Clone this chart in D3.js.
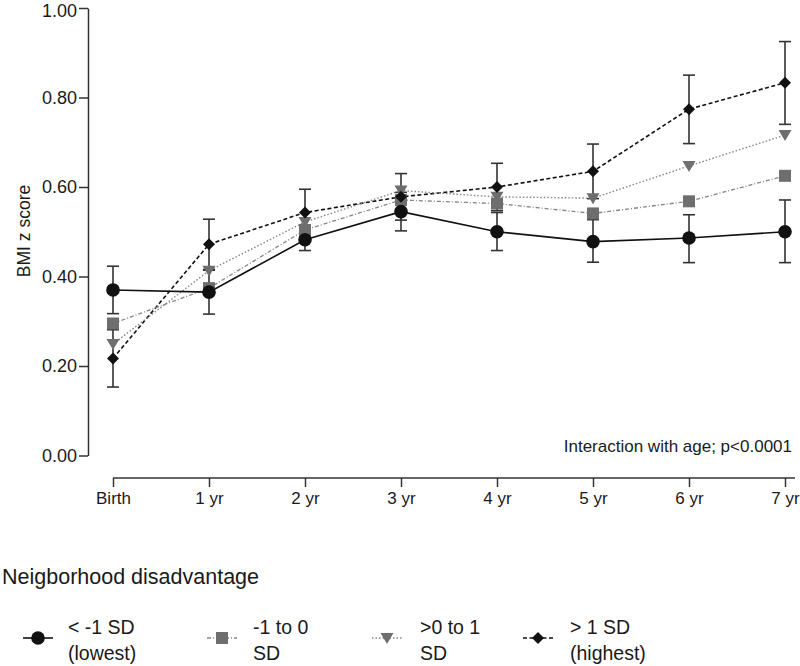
<!DOCTYPE html>
<html>
<head>
<meta charset="utf-8">
<script src="https://cdn.jsdelivr.net/npm/d3@7"></script>
<style>
  html, body { margin: 0; padding: 0; background: #fff; }
  svg { display: block; font-family: "Liberation Sans", Arial, sans-serif; }
</style>
</head>
<body>
<svg id="chart" width="800" height="666"></svg>
<script>
// ---- data ----
const categories = ["Birth", "1 yr", "2 yr", "3 yr", "4 yr", "5 yr", "6 yr", "7 yr"];
const yTicks = [0, 0.2, 0.4, 0.6, 0.8, 1.0];

const seriesNames = ["< -1 SD|(lowest)", "-1 to 0|SD", ">0 to 1|SD", "> 1 SD|(highest)"];
const lowestValues   = [0.370, 0.365, 0.482, 0.545, 0.500, 0.478, 0.486, 0.500];
const lowerMidValues = [0.295, 0.374, 0.504, 0.571, 0.563, 0.541, 0.568, 0.625];
const upperMidValues = [0.249, 0.413, 0.522, 0.592, 0.578, 0.575, 0.647, 0.716];
const highestValues  = [0.217, 0.472, 0.543, 0.578, 0.600, 0.635, 0.774, 0.833];

// error bars (lower, upper) for the lowest and highest groups
const lowestLow   = [0.317, 0.316, 0.458, 0.502, 0.458, 0.432, 0.431, 0.431];
const lowestHigh  = [0.423, 0.414, 0.506, 0.588, 0.543, 0.527, 0.538, 0.571];
const highestLow  = [0.153, 0.416, 0.491, 0.526, 0.547, 0.574, 0.697, 0.740];
const highestHigh = [0.281, 0.528, 0.595, 0.630, 0.653, 0.696, 0.850, 0.925];

const legendTitle = "Neigborhood disadvantage";
const annotation = "Interaction with age; p<0.0001";
const yTitle = "BMI z score";

// ---- layout ----
const svg = d3.select("#chart");
const axisX = 88, axisYBottom = 478;
const x = d3.scalePoint().domain(categories).range([113, 785]);
const y = d3.scaleLinear().domain([0, 1]).range([455.5, 8]);

const black = "#111", gray = "#6e6e6e", lineGray = "#858585";
const txt = "#1a1a1a";

const styles = [
  { symbol: "circle",   fill: black, stroke: black, width: 1.6, dash: null },
  { symbol: "square",   fill: gray,  stroke: lineGray, width: 1.3, dash: "4,2,1,2" },
  { symbol: "triangle", fill: gray,  stroke: lineGray, width: 1.4, dash: "1.5,2" },
  { symbol: "diamond",  fill: black, stroke: black, width: 1.6, dash: "4,2.5" }
];
const seriesValues = [lowestValues, lowerMidValues, upperMidValues, highestValues];

// Y axis
const yAxis = d3.axisLeft(y).tickValues(yTicks).tickFormat(d3.format(".2f"))
  .tickSizeInner(9).tickSizeOuter(0).tickPadding(2);
const gy = svg.append("g").attr("transform", `translate(${axisX},0)`).call(yAxis);
gy.select(".domain").attr("stroke", "#333").attr("stroke-width", 1.5);
gy.selectAll(".tick line").attr("stroke", "#333").attr("stroke-width", 1.5);
gy.selectAll(".tick text").attr("font-size", 18).attr("fill", txt)
  .attr("font-family", "Liberation Sans, Arial, sans-serif");
// keep the top label inside the picture
gy.selectAll(".tick").filter(d => d === 1).select("text").attr("dy", "0.48em");

svg.append("text")
  .attr("transform", "translate(30,231) rotate(-90)")
  .attr("text-anchor", "middle")
  .attr("font-size", 17.5).attr("fill", txt)
  .text(yTitle);

// X axis
const xAxis = d3.axisBottom(x).tickSizeInner(9).tickSizeOuter(0).tickPadding(5);
const gx = svg.append("g").attr("transform", `translate(0,${axisYBottom})`).call(xAxis);
gx.select(".domain").remove();
gx.append("line").attr("x1", x(categories[0])).attr("x2", 795)
  .attr("stroke", "#333").attr("stroke-width", 1.5);
gx.selectAll(".tick line").attr("stroke", "#333").attr("stroke-width", 1.5);
gx.selectAll(".tick text").attr("font-size", 17).attr("fill", txt)
  .attr("font-family", "Liberation Sans, Arial, sans-serif");

// error bars
function errorBars(lo, hi, color) {
  const g = svg.append("g").attr("stroke", color).attr("stroke-width", 1.6).attr("fill", "none");
  categories.forEach((c, i) => {
    const cx = x(c);
    g.append("line").attr("x1", cx).attr("x2", cx).attr("y1", y(lo[i])).attr("y2", y(hi[i]));
    g.append("line").attr("x1", cx - 6).attr("x2", cx + 6).attr("y1", y(lo[i])).attr("y2", y(lo[i]));
    g.append("line").attr("x1", cx - 6).attr("x2", cx + 6).attr("y1", y(hi[i])).attr("y2", y(hi[i]));
  });
}
errorBars(highestLow, highestHigh, "#333");
errorBars(lowestLow, lowestHigh, "#333");

// symbols
function drawSymbol(g, type, cx, cy, st) {
  if (type === "circle") {
    g.append("circle").attr("cx", cx).attr("cy", cy).attr("r", 6.8).attr("fill", st.fill);
  } else if (type === "square") {
    g.append("rect").attr("x", cx - 6).attr("y", cy - 6).attr("width", 12).attr("height", 12).attr("fill", st.fill);
  } else if (type === "triangle") {
    g.append("path").attr("d", `M${cx - 6.5},${cy - 5} L${cx + 6.5},${cy - 5} L${cx},${cy + 6} Z`).attr("fill", st.fill);
  } else if (type === "diamond") {
    g.append("path").attr("d", `M${cx},${cy - 6} L${cx + 6},${cy} L${cx},${cy + 6} L${cx - 6},${cy} Z`).attr("fill", st.fill);
  }
}

// lines
const line = d3.line().x((d, i) => x(categories[i])).y(d => y(d));
[3, 2, 1, 0].forEach(si => {
  const st = styles[si];
  svg.append("path").datum(seriesValues[si]).attr("d", line)
    .attr("fill", "none").attr("stroke", st.stroke).attr("stroke-width", st.width)
    .attr("stroke-dasharray", st.dash);
});
[1, 2, 3, 0].forEach(si => {
  const st = styles[si];
  const g = svg.append("g");
  seriesValues[si].forEach((v, i) => drawSymbol(g, st.symbol, x(categories[i]), y(v), st));
});

// annotation
svg.append("text").attr("x", 792).attr("y", 452).attr("text-anchor", "end")
  .attr("font-size", 17).attr("fill", txt).text(annotation);

// legend
svg.append("text").attr("x", 2).attr("y", 584).attr("font-size", 21.5).attr("fill", txt).text(legendTitle);
const legSymX = [38, 222, 387, 538];
const legTextX = [68, 253, 420, 570];
seriesNames.forEach((name, si) => {
  const st = styles[si];
  const g = svg.append("g");
  const cx = legSymX[si], cy = 638;
  g.append("line").attr("x1", cx - 15).attr("x2", cx + 15).attr("y1", cy).attr("y2", cy)
    .attr("stroke", st.stroke).attr("stroke-width", st.width).attr("stroke-dasharray", st.dash);
  drawSymbol(g, st.symbol, cx, cy, st);
  const parts = name.split("|");
  g.append("text").attr("x", legTextX[si]).attr("y", 634).attr("font-size", 19.5).attr("fill", txt).text(parts[0]);
  g.append("text").attr("x", legTextX[si]).attr("y", 660).attr("font-size", 19.5).attr("fill", txt).text(parts[1]);
});
</script>
</body>
</html>
